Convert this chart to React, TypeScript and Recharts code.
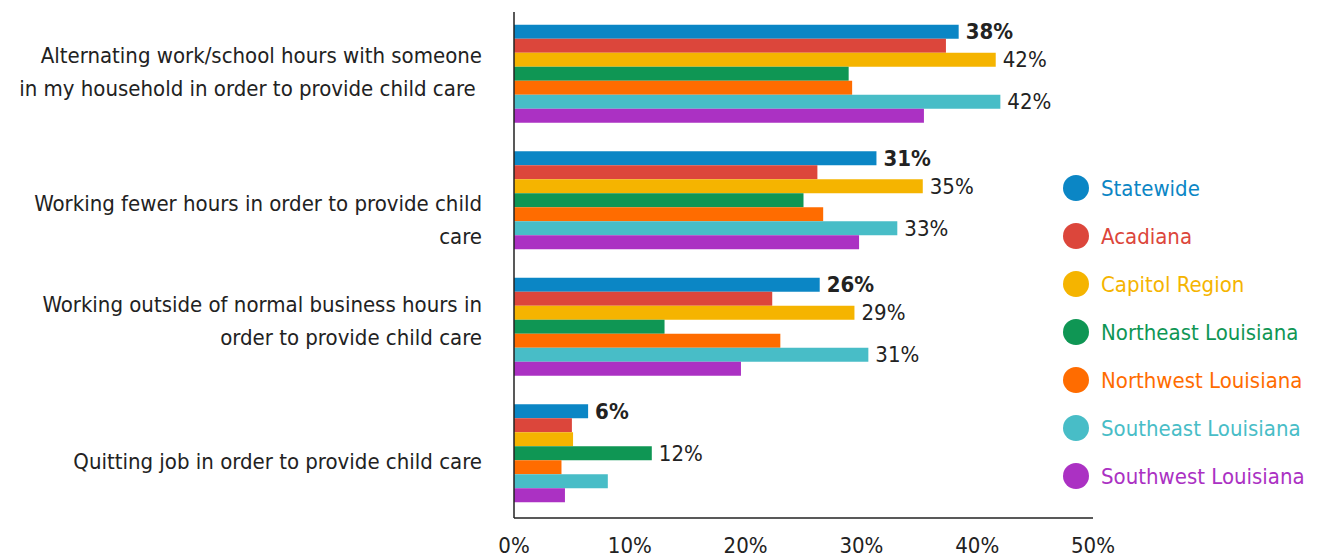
import React from 'react'
import { BarChart, Bar, XAxis, YAxis, LabelList } from 'recharts'

const FONT = "'DejaVu Sans Condensed', 'Noto Sans', sans-serif"

const categories = [
  'Alternating work/school hours with someone|in my household in order to provide child care ',
  'Working fewer hours in order to provide child|care',
  'Working outside of normal business hours in|order to provide child care',
  'Quitting job in order to provide child care',
]

const statewide = [38.4, 31.3, 26.4, 6.4]
const acadiana = [37.3, 26.2, 22.3, 5.0]
const capitol = [41.6, 35.3, 29.4, 5.1]
const northeast = [28.9, 25.0, 13.0, 11.9]
const northwest = [29.2, 26.7, 23.0, 4.1]
const southeast = [42.0, 33.1, 30.6, 8.1]
const southwest = [35.4, 29.8, 19.6, 4.4]

// which bars carry a value label
const capitolLabels = [true, true, true, false]
const northeastLabels = [false, false, false, true]
const southeastLabels = [true, true, true, false]

const xTicks = [0, 10, 20, 30, 40, 50]

// the category labels in the original sit a little off the band centre
const LABEL_SHIFT = [-4, 18, -8, 6]

type SeriesDef = { key: string; name: string; color: string; values: number[]; labels?: boolean[]; bold?: boolean }

const series: SeriesDef[] = [
  { key: 'statewide', name: 'Statewide', color: '#0B86C5', values: statewide, labels: [true, true, true, true], bold: true },
  { key: 'acadiana', name: 'Acadiana', color: '#DC463B', values: acadiana },
  { key: 'capitol', name: 'Capitol Region', color: '#F5B400', values: capitol, labels: capitolLabels },
  { key: 'northeast', name: 'Northeast Louisiana', color: '#0F9654', values: northeast, labels: northeastLabels },
  { key: 'northwest', name: 'Northwest Louisiana', color: '#FF6C00', values: northwest },
  { key: 'southeast', name: 'Southeast Louisiana', color: '#48BDC7', values: southeast, labels: southeastLabels },
  { key: 'southwest', name: 'Southwest Louisiana', color: '#AB31C3', values: southwest },
]

const data = categories.map((c, i) => {
  const row: Record<string, number | string> = { category: c }
  series.forEach(s => {
    row[s.key] = s.values[i]
  })
  return row
})

const CategoryTick = (props: any) => {
  const { x, y, payload, index } = props
  const lines = String(payload.value).split('|')
  const lh = 33
  const start = y - ((lines.length - 1) * lh) / 2 + (LABEL_SHIFT[index] || 0)
  return (
    <text x={x - 30} y={start} textAnchor="end" dominantBaseline="central" fontSize={22} fill="#222" fontFamily={FONT} style={{ whiteSpace: 'pre' }}>
      {lines.map((l, i) => (
        <tspan key={i} x={x - 30} y={start + i * lh} dominantBaseline="central">{l}</tspan>
      ))}
    </text>
  )
}

const PctTick = (props: any) => {
  const { x, y, payload } = props
  return (
    <text x={x} y={y + 25} textAnchor="middle" dominantBaseline="central" fontSize={22} fill="#222" fontFamily={FONT}>
      {payload.value}%
    </text>
  )
}

const makeLabel = (s: SeriesDef) => (props: any) => {
  const { x, y, width, height, index, value } = props
  if (!s.labels || !s.labels[index]) return null
  return (
    <text x={x + width + 7} y={y + height / 2} dominantBaseline="central" fontSize={22} fill="#222" fontWeight={s.bold ? 700 : 400} fontFamily={FONT}>
      {Math.round(value)}%
    </text>
  )
}

export default function App() {
  return (
    <div style={{ position: 'relative', width: 1301, height: 549, fontFamily: FONT }}>
      <BarChart
        width={1301}
        height={549}
        data={data}
        layout="vertical"
        margin={{ top: 4, right: 216, bottom: 9, left: 0 }}
        barCategoryGap="10%"
        barGap={0}
      >
        <XAxis
          type="number"
          domain={[0, 50]}
          ticks={xTicks}
          tick={<PctTick />}
          tickLine={false}
          tickSize={0}
          axisLine={{ stroke: '#222', strokeWidth: 1.5 }}
          height={30}
        />
        <YAxis
          type="category"
          dataKey="category"
          width={506}
          tick={<CategoryTick />}
          tickLine={false}
          tickSize={0}
          axisLine={{ stroke: '#222', strokeWidth: 1.5 }}
          interval={0}
        />
        {series.map(s => (
          <Bar key={s.key} dataKey={s.key} name={s.name} fill={s.color} isAnimationActive={false}>
            <LabelList dataKey={s.key} content={makeLabel(s)} />
          </Bar>
        ))}
      </BarChart>
      <div style={{ position: 'absolute', left: 1055, top: 156 }}>
        {series.map(s => (
          <div key={s.key} style={{ display: 'flex', alignItems: 'center', height: 48 }}>
            <span style={{ width: 26, height: 26, borderRadius: 13, background: s.color, display: 'inline-block' }} />
            <span style={{ marginLeft: 12, color: s.color, fontSize: 22, whiteSpace: 'nowrap' }}>{s.name}</span>
          </div>
        ))}
      </div>
    </div>
  )
}
